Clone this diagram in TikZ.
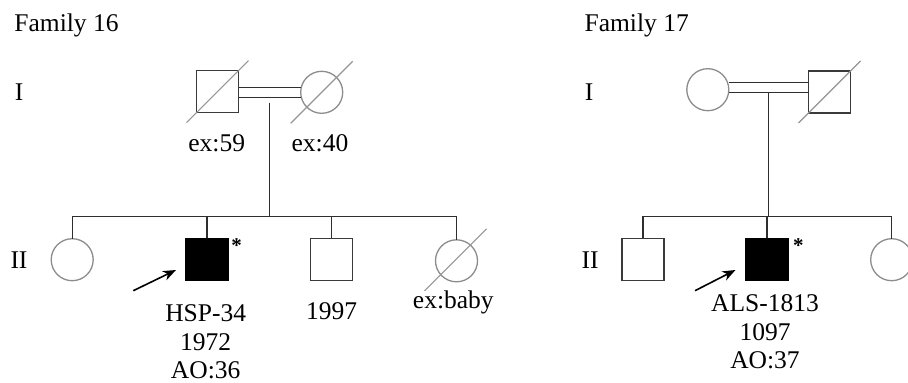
\documentclass[tikz,border=0pt]{standalone}
\usepackage{fontspec}
\setmainfont{Liberation Serif}
\usetikzlibrary{calc,arrows.meta}
\definecolor{sqcol}{HTML}{3A3A3A}
\definecolor{cicol}{HTML}{8C8C8C}
\definecolor{dgcol}{HTML}{959595}
\definecolor{lncol}{HTML}{2E2E2E}
\begin{document}
\begin{tikzpicture}[x=1pt,y=-1pt,
  sq/.style={draw=sqcol,line width=1.3pt,minimum size=42pt,inner sep=0pt,outer sep=0pt},
  sqfill/.style={sq,fill=black,draw=black},
  ci/.style={circle,draw=cicol,line width=1.3pt,minimum size=42pt,inner sep=0pt,outer sep=0pt},
  diag/.style={draw=dgcol,line width=1.1pt},
  ln/.style={draw=lncol,line width=1.2pt},
  txt/.style={font=\fontsize{25.5}{29}\selectfont,inner sep=0pt,anchor=base},
  star/.style={font=\fontsize{21}{21}\selectfont\bfseries,inner sep=0pt,anchor=base},
  proarrow/.style={draw=black,line width=1.6pt,-{Stealth[length=13pt,width=10pt,inset=4pt]}}]
\useasboundingbox (0,0) rectangle (908,383);
\clip (0,0) rectangle (908,383);

% ---------------- Family 16 ----------------
\node[txt] (t16) at (66.5,31.7) {Family 16};
\node[txt] (g16a) at (19,100) {I};
\node[txt] (g16b) at (19,268.3) {II};

\node[sq] (a1) at (217.5,91.7) {};
\node[ci] (a2) at (321.7,92.3) {};
\draw[diag] ($(a1.center)+(-31,31)$) -- ($(a1.center)+(31,-31)$);
\draw[diag] ($(a2.center)+(-31,31)$) -- ($(a2.center)+(31,-31)$);
\draw[ln] (a1.east |- 0,87.5) -- (a2.west |- 0,87.5);
\draw[ln] (a1.east |- 0,97.5) -- (a2.west |- 0,97.5);
\node[txt] (a1t) at (216.7,151.7) {ex:59};
\node[txt] (a2t) at (320,151.7) {ex:40};

\coordinate (a12) at (269.3,102.7);
\coordinate (sib16) at (269.3,216.7);
\draw[ln] (a12) -- (sib16);

\node[ci] (b1) at (72.2,259.7) {};
\node[sqfill] (b2) at (207,259.2) {};
\node[sq] (b3) at (331.3,259.2) {};
\node[ci] (b4) at (456.5,260.8) {};
\draw[diag] ($(b4.center)+(-32,30)$) -- ($(b4.center)+(30,-32)$);

\draw[ln] (b1.north) -- (b1.north |- sib16) -- (b4.north |- sib16) -- (b4.north);
\draw[ln] (b2.north) -- (b2.north |- sib16);
\draw[ln] (b3.north) -- (b3.north |- sib16);

\node[star] (s16) at (236.7,252) {*};
\coordinate (p16s) at (133.3,290.7);
\coordinate (p16e) at (176,270);
\draw[proarrow] (p16s) -- (p16e);

\node[txt] (b2t1) at (205.7,321.7) {HSP-34};
\node[txt] (b2t2) at (205.7,350.4) {1972};
\node[txt] (b2t3) at (205.7,378.6) {AO:36};
\node[txt] (b3t) at (331.7,319.3) {1997};
\node[txt] (b4t) at (453.3,308.3) {ex:baby};

% ---------------- Family 17 ----------------
\node[txt] (t17) at (636.7,31.7) {Family 17};
\node[txt] (g17a) at (589,100) {I};
\node[txt] (g17b) at (590,268.3) {II};

\node[ci] (c1) at (707.8,89.7) {};
\node[sq] (c2) at (829.5,92) {};
\draw[diag] ($(c2.center)+(-31,31)$) -- ($(c2.center)+(31,-31)$);
\draw[ln] (c1.east |- 0,82.3) -- (c2.west |- 0,82.3);
\draw[ln] (c1.east |- 0,92.3) -- (c2.west |- 0,92.3);

\coordinate (c12) at (768.3,92.3);
\coordinate (sib17) at (768.3,216.7);
\draw[ln] (c12) -- (sib17);

\node[sq] (d1) at (643,259.2) {};
\node[sqfill] (d2) at (767,259.2) {};
\node[ci] (d3) at (891.7,259.7) {};

\draw[ln] (d1.north) -- (d1.north |- sib17) -- (d3.north |- sib17) -- (d3.north);
\draw[ln] (d2.north) -- (d2.north |- sib17);

\node[star] (s17) at (798.3,252) {*};
\coordinate (p17s) at (695,290.7);
\coordinate (p17e) at (735.5,270);
\draw[proarrow] (p17s) -- (p17e);

\node[txt] (d2t1) at (765,311) {ALS-1813};
\node[txt] (d2t2) at (765,340) {1097};
\node[txt] (d2t3) at (765,368.3) {AO:37};
\end{tikzpicture}
\end{document}
